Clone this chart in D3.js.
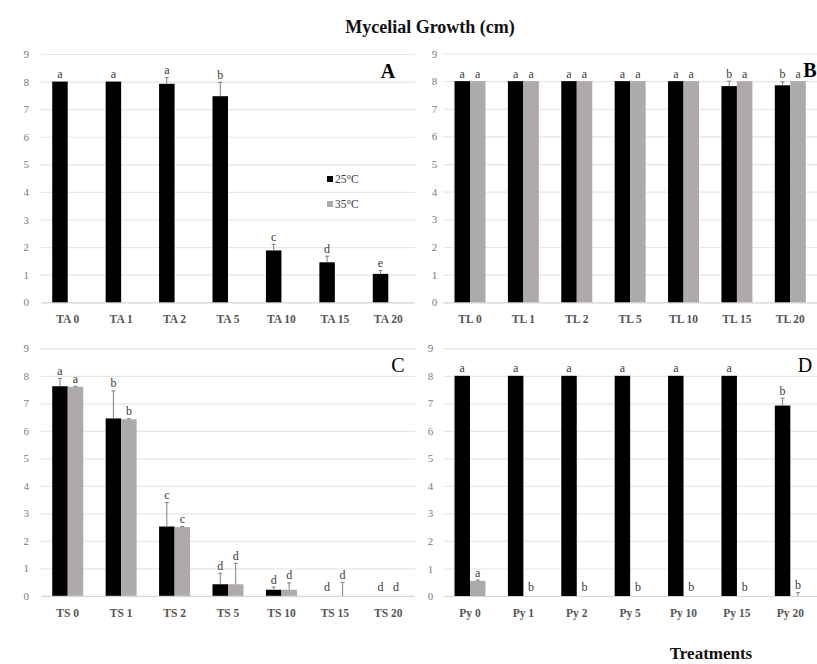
<!DOCTYPE html>
<html>
<head>
<meta charset="utf-8">
<script src="https://cdn.jsdelivr.net/npm/d3@7"></script>
<style>
  body { margin: 0; background: #fff; }
  text { font-family: "Liberation Serif", "DejaVu Serif", serif; }
</style>
</head>
<body>
<script>
// ---- Data ----
const seriesNames = ["25°C", "35°C"];
const yTicks = [0, 1, 2, 3, 4, 5, 6, 7, 8, 9];

const catsA = ["TA 0", "TA 1", "TA 2", "TA 5", "TA 10", "TA 15", "TA 20"];
const a25 = [8.0, 8.0, 7.92, 7.47, 1.88, 1.45, 1.03];
const a25err = [0, 0, 0.22, 0.5, 0.22, 0.22, 0.12];
const a35 = [0, 0, 0, 0, 0, 0, 0];
const a35err = [0, 0, 0, 0, 0, 0, 0];
const a25let = ["a", "a", "a", "b", "c", "d", "e"];
const a35let = ["", "", "", "", "", "", ""];

const catsB = ["TL 0", "TL 1", "TL 2", "TL 5", "TL 10", "TL 15", "TL 20"];
const b25 = [8.0, 8.0, 8.0, 8.0, 8.0, 7.82, 7.85];
const b25err = [0, 0, 0, 0, 0, 0.18, 0.12];
const b35 = [8.0, 8.0, 8.0, 8.0, 8.0, 8.0, 8.0];
const b35err = [0, 0, 0, 0, 0, 0, 0];
const b25let = ["a", "a", "a", "a", "a", "b", "b"];
const b35let = ["a", "a", "a", "a", "a", "a", "a"];

const catsC = ["TS 0", "TS 1", "TS 2", "TS 5", "TS 10", "TS 15", "TS 20"];
const c25 = [7.62, 6.45, 2.52, 0.42, 0.22, 0, 0];
const c25err = [0.28, 1.0, 0.87, 0.4, 0.1, 0, 0];
const c35 = [7.6, 6.42, 2.5, 0.42, 0.22, 0, 0];
const c35err = [0.02, 0.02, 0.02, 0.76, 0.25, 0.49, 0];
const c25let = ["a", "b", "c", "d", "d", "d", "d"];
const c35let = ["a", "b", "c", "d", "d", "d", "d"];

const catsD = ["Py 0", "Py 1", "Py 2", "Py 5", "Py 10", "Py 15", "Py 20"];
const d25 = [8.0, 8.0, 8.0, 8.0, 8.0, 8.0, 6.92];
const d25err = [0, 0, 0, 0, 0, 0, 0.27];
const d35 = [0.55, 0, 0, 0, 0, 0, 0];
const d35err = [0.03, 0, 0, 0, 0, 0, 0.12];
const d25let = ["a", "a", "a", "a", "a", "a", "b"];
const d35let = ["a", "b", "b", "b", "b", "b", "b"];

// ---- Layout ----
const W = 817, H = 664;
const colors = { "25°C": "#000000", "35°C": "#aeaaaa" };

const svg = d3.select("body").append("svg").attr("width", W).attr("height", H);

const panels = [
  { name: "A", cats: catsA, v: [a25, a35], e: [a25err, a35err], l: [a25let, a35let],
    x0: 41, x1: 415, yTop: 54, yBot: 302.3, lx: 388, ly: 78, bold: true, tickPad: 12 },
  { name: "B", cats: catsB, v: [b25, b35], e: [b25err, b35err], l: [b25let, b35let],
    x0: 443.3, x1: 817, yTop: 53.5, yBot: 302.3, lx: 810, ly: 77, bold: true, tickPad: 6 },
  { name: "C", cats: catsC, v: [c25, c35], e: [c25err, c35err], l: [c25let, c35let],
    x0: 41, x1: 415, yTop: 348.3, yBot: 595.8, lx: 398, ly: 372, bold: false, tickPad: 12 },
  { name: "D", cats: catsD, v: [d25, d35], e: [d25err, d35err], l: [d25let, d35let],
    x0: 443.3, x1: 817, yTop: 348.3, yBot: 596, lx: 805, ly: 372, bold: false, tickPad: 10 }
];

panels.forEach(p => {
  const g = svg.append("g");
  const x = d3.scaleBand().domain(p.cats).range([p.x0, p.x1]).paddingInner(0.42).paddingOuter(0.21);
  const xs = d3.scaleBand().domain(seriesNames).range([0, x.bandwidth()]);
  const y = d3.scaleLinear().domain([0, 9]).range([p.yBot, p.yTop]);

  // gridlines + y labels
  const yAxis = g.append("g").attr("transform", `translate(${p.x0},0)`)
    .call(d3.axisLeft(y).tickValues(yTicks).tickSize(-(p.x1 - p.x0)).tickPadding(p.tickPad).tickFormat(d3.format("d")));
  yAxis.select(".domain").remove();
  yAxis.selectAll("line").attr("stroke", d => d === 0 ? "#d4d4d4" : "#e6e6e6").attr("stroke-width", 1.2);
  yAxis.selectAll("text").attr("fill", "#7a7a7a").style("font-size", "11px");

  // x labels
  const xAxis = g.append("g").attr("transform", `translate(0,${p.yBot})`)
    .call(d3.axisBottom(x).tickSize(0).tickPadding(13));
  xAxis.select(".domain").remove();
  xAxis.selectAll("text").attr("fill", "#555555").style("font-size", "11.5px").style("font-weight", "bold");

  // bars
  seriesNames.forEach((s, si) => {
    const rows = p.cats.map((c, i) => ({ c, v: p.v[si][i], e: p.e[si][i], l: p.l[si][i] }));
    const sg = g.append("g");
    sg.selectAll("rect").data(rows.filter(d => d.v > 0)).join("rect")
      .attr("x", d => x(d.c) + xs(s))
      .attr("width", xs.bandwidth())
      .attr("y", d => y(d.v))
      .attr("height", d => y(0) - y(d.v))
      .attr("fill", colors[s]);
    // error bars
    const eb = rows.filter(d => d.e > 0);
    sg.selectAll("line.err").data(eb).join("line").attr("class", "err")
      .attr("x1", d => x(d.c) + xs(s) + xs.bandwidth() / 2)
      .attr("x2", d => x(d.c) + xs(s) + xs.bandwidth() / 2)
      .attr("y1", d => y(d.v))
      .attr("y2", d => y(d.v + d.e))
      .attr("stroke", "#7f7f7f").attr("stroke-width", 1);
    sg.selectAll("line.cap").data(eb).join("line").attr("class", "cap")
      .attr("x1", d => x(d.c) + xs(s) + xs.bandwidth() / 2 - 2)
      .attr("x2", d => x(d.c) + xs(s) + xs.bandwidth() / 2 + 2)
      .attr("y1", d => y(d.v + d.e))
      .attr("y2", d => y(d.v + d.e))
      .attr("stroke", "#7f7f7f").attr("stroke-width", 1);
    // letters
    sg.selectAll("text").data(rows.filter(d => d.l)).join("text")
      .attr("x", d => x(d.c) + xs(s) + xs.bandwidth() / 2)
      .attr("y", d => y(d.v + d.e) - (d.v + d.e > 0 ? 3.5 : 5))
      .attr("text-anchor", "middle")
      .attr("fill", "#3a3a3a")
      .style("font-size", "12px")
      .text(d => d.l);
  });

  // panel letter
  g.append("text").attr("x", p.lx).attr("y", p.ly).attr("text-anchor", "middle")
    .style("font-size", "20px").style("font-weight", p.bold ? "bold" : "normal")
    .attr("fill", "#000").text(p.name);
});

// legend (in panel A)
const legend = svg.append("g");
seriesNames.forEach((s, i) => {
  legend.append("rect").attr("x", 327).attr("y", 176 + i * 25).attr("width", 6).attr("height", 6).attr("fill", colors[s]);
  legend.append("text").attr("x", 335).attr("y", 183 + i * 25).attr("fill", "#3a3a3a")
    .style("font-size", "11.5px").text(s);
});

// titles
svg.append("text").attr("x", 430).attr("y", 33).attr("text-anchor", "middle")
  .style("font-size", "18px").style("font-weight", "bold").attr("fill", "#111").text("Mycelial Growth (cm)");
svg.append("text").attr("x", 711).attr("y", 659).attr("text-anchor", "middle")
  .style("font-size", "17px").style("font-weight", "bold").attr("fill", "#111").text("Treatments");
</script>
</body>
</html>
